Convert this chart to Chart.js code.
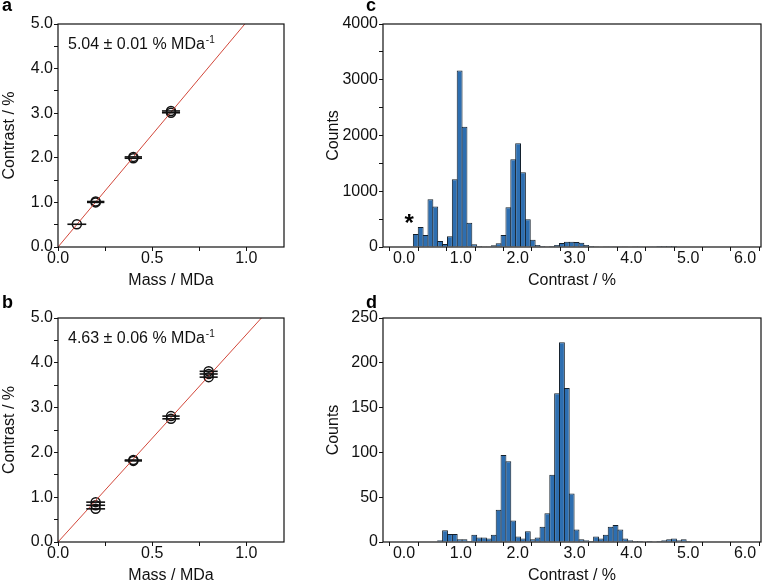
<!DOCTYPE html>
<html lang="en">
<head>
<meta charset="UTF-8" />
<title>Contrast calibration and histograms</title>
<script src="https://cdn.jsdelivr.net/npm/chart.js"></script>
<style>
  body { margin: 0; background: #fff; font-family: 'Liberation Sans', Arial, sans-serif; }
  #wrap { position: relative; width: 762px; height: 582px; overflow: hidden; }
  canvas { position: absolute; }
  .tag { position: absolute; font-weight: bold; font-size: 18px; line-height: 1; color: #000; }
</style>
</head>
<body>
<div id="wrap">
  <canvas id="chartA" width="290" height="290" style="left:0;top:0"></canvas>
  <canvas id="chartB" width="290" height="292" style="left:0;top:290px"></canvas>
  <canvas id="chartC" width="442" height="290" style="left:320px;top:0"></canvas>
  <canvas id="chartD" width="442" height="292" style="left:320px;top:290px"></canvas>
  <div class="tag" style="left:2px;top:-4px">a</div>
  <div class="tag" style="left:2px;top:293px">b</div>
  <div class="tag" style="left:366px;top:-4px">c</div>
  <div class="tag" style="left:366px;top:293px">d</div>
</div>

<script>
  // panel a: mass (MDa), contrast (%), horizontal error (MDa)
  const massA = [0.1, 0.2, 0.2, 0.4, 0.4, 0.6, 0.6];
  const contrastA = [0.51, 1.00, 1.02, 1.99, 2.02, 3.01, 3.05];
  const massErrA = [0.05, 0.046, 0.046, 0.046, 0.046, 0.048, 0.048];
  const slopeA = 5.04;
  const slopeTextA = '5.04 ± 0.01 % MDa';

  // panel b
  const massB = [0.2, 0.2, 0.2, 0.4, 0.4, 0.6, 0.6, 0.8, 0.8, 0.8];
  const contrastB = [0.74, 0.82, 0.89, 1.81, 1.83, 2.75, 2.81, 3.68, 3.75, 3.81];
  const massErrB = [0.05, 0.05, 0.05, 0.046, 0.046, 0.046, 0.046, 0.048, 0.048, 0.048];
  const slopeB = 4.63;
  const slopeTextB = '4.63 ± 0.06 % MDa';

  // histogram bin centres (contrast, %)
  const binCenters = [
    0.2070, 0.2927, 0.3784, 0.4641, 0.5498, 0.6355, 0.7212, 0.8069, 0.8926, 0.9783,
    1.0640, 1.1497, 1.2354, 1.3211, 1.4068, 1.4925, 1.5782, 1.6639, 1.7496, 1.8353,
    1.9210, 2.0067, 2.0924, 2.1781, 2.2638, 2.3495, 2.4352, 2.5209, 2.6066, 2.6923,
    2.7780, 2.8637, 2.9494, 3.0351, 3.1208, 3.2065, 3.2922, 3.3779, 3.4636, 3.5493,
    3.6350, 3.7207, 3.8064, 3.8921, 3.9778, 4.0635, 4.1492, 4.2349, 4.3206, 4.4063,
    4.4920, 4.5777, 4.6634, 4.7491, 4.8348, 4.9205, 5.0062
  ];
  const countsC = [
    234, 359, 216, 856, 725, 108, 54, 192, 1216, 3168,
    2156, 437, 48, 18, 12, 12, 30, 66, 216, 713,
    1575, 1862, 1341, 497, 132, 36, 18, 12, 18, 36,
    72, 96, 96, 90, 78, 36, 18, 6, 8, 5,
    4, 5, 3, 6, 8, 12, 15, 8, 4, 3,
    2, 2, 1, 1, 0, 0, 0
  ];
  const countsD = [
    0, 0, 0, 0, 0, 2, 13, 9, 9, 3,
    3, 1, 8, 5, 5, 4, 8, 36, 97, 90,
    24, 6, 4, 12, 3, 5, 17, 32, 75, 166,
    223, 172, 54, 14, 3, 2, 1, 6, 4, 8,
    17, 19, 14, 4, 2, 1, 1, 0, 1, 0,
    1, 2, 3, 4, 2, 3, 1
  ];

  const massTicks = [0, 0.25, 0.5, 0.75, 1.0];
  const contrastTicks = [0, 0.5, 1, 1.5, 2, 2.5, 3, 3.5, 4, 4.5, 5];
  const histXTicks = [0, 0.5, 1, 1.5, 2, 2.5, 3, 3.5, 4, 4.5, 5, 5.5, 6];
  const countTicksC = [0, 500, 1000, 1500, 2000, 2500, 3000, 3500, 4000];
  const countTicksD = [0, 50, 100, 150, 200, 250];

  Chart.defaults.font.family = "'Liberation Sans', Arial, sans-serif";
  Chart.defaults.font.size = 16;
  Chart.defaults.color = '#111';

  const ink = '#111';

  // box around the plot area
  const frame = {
    id: 'frame',
    afterDraw(chart) {
      const { ctx, chartArea: a } = chart;
      ctx.save();
      ctx.strokeStyle = ink;
      ctx.lineWidth = 1.2;
      ctx.strokeRect(a.left, a.top, a.right - a.left, a.bottom - a.top);
      ctx.restore();
    }
  };

  // horizontal error bars, read from dataset.xErr
  const errorBars = {
    id: 'errorBars',
    afterDatasetsDraw(chart) {
      const { ctx, scales: { x, y } } = chart;
      chart.data.datasets.forEach(ds => {
        if (!ds.xErr) return;
        ctx.save();
        ctx.strokeStyle = ink;
        ctx.lineWidth = 1.6;
        ds.data.forEach((p, i) => {
          const py = y.getPixelForValue(p.y);
          ctx.beginPath();
          ctx.moveTo(x.getPixelForValue(p.x - ds.xErr[i]), py);
          ctx.lineTo(x.getPixelForValue(p.x + ds.xErr[i]), py);
          ctx.stroke();
        });
        ctx.restore();
      });
    }
  };

  // slope label with superscript
  const slopeLabel = {
    id: 'slopeLabel',
    afterDraw(chart, args, opts) {
      if (!opts.text) return;
      const { ctx, chartArea: a } = chart;
      ctx.save();
      ctx.fillStyle = ink;
      ctx.textBaseline = 'alphabetic';
      ctx.font = "16px 'Liberation Sans', Arial, sans-serif";
      const x0 = a.left + 10, y0 = a.top + 25;
      ctx.fillText(opts.text, x0, y0);
      const w = ctx.measureText(opts.text).width;
      ctx.font = "10px 'Liberation Sans', Arial, sans-serif";
      ctx.fillText('-1', x0 + w + 1, y0 - 6);
      ctx.restore();
    }
  };

  // asterisk marker placed in data coordinates
  const starMark = {
    id: 'starMark',
    afterDatasetsDraw(chart, args, opts) {
      if (!opts.at) return;
      const { ctx, scales: { x, y } } = chart;
      ctx.save();
      ctx.fillStyle = '#000';
      ctx.font = "bold 24px 'Liberation Sans', Arial, sans-serif";
      ctx.textAlign = 'center';
      ctx.textBaseline = 'middle';
      ctx.fillText('*', x.getPixelForValue(opts.at[0]), y.getPixelForValue(opts.at[1]) + 4);
      ctx.restore();
    }
  };

  function axisStyle() {
    return {
      grid: { display: true, drawOnChartArea: false, drawTicks: true, tickLength: 4, color: ink, lineWidth: 1 },
      border: { display: false }
    };
  }

  function makeScatter(id, mass, contrast, err, slope, text, padTop, xHeight, tickPad, titlePad) {
    const pts = mass.map((m, i) => ({ x: m, y: contrast[i] }));
    return new Chart(document.getElementById(id), {
      type: 'scatter',
      data: {
        datasets: [
          {
            data: [{ x: 0, y: 0 }, { x: 1.2, y: slope * 1.2 }],
            showLine: true,
            borderColor: '#d2473a',
            borderWidth: 1,
            pointRadius: 0,
            clip: 0
          },
          {
            data: pts,
            xErr: err,
            pointStyle: 'circle',
            pointRadius: 4.5,
            borderWidth: 1.5,
            borderColor: ink,
            backgroundColor: 'rgba(0,0,0,0)'
          }
        ]
      },
      options: {
        responsive: false,
        animation: false,
        events: [],
        layout: { padding: { top: padTop, right: 3, left: 0, bottom: 0 } },
        plugins: { legend: { display: false }, tooltip: { enabled: false }, slopeLabel: { text: text } },
        scales: {
          x: {
            type: 'linear', min: 0, max: 1.2,
            ...axisStyle(),
            afterBuildTicks: ax => { ax.ticks = massTicks.map(v => ({ value: v })); },
            afterFit: ax => { ax.height = xHeight; },
            ticks: {
              autoSkip: false, maxRotation: 0, padding: tickPad,
              callback: v => (Math.abs(v * 2 - Math.round(v * 2)) < 1e-6 ? v.toFixed(1) : '')
            },
            title: { display: true, text: 'Mass / MDa', padding: { top: 0, bottom: titlePad } }
          },
          y: {
            type: 'linear', min: 0, max: 5,
            ...axisStyle(),
            afterBuildTicks: ax => { ax.ticks = contrastTicks.map(v => ({ value: v })); },
            afterFit: ax => { ax.width = 58; },
            ticks: {
              autoSkip: false, padding: 1,
              callback: v => (Number.isInteger(v) ? v.toFixed(1) : '')
            },
            title: { display: true, text: 'Contrast / %', padding: { top: 0, bottom: 0 } }
          }
        }
      },
      plugins: [frame, errorBars, slopeLabel]
    });
  }

  function makeHist(id, counts, yMax, yTicks, labelStep, padTop, xHeight, tickPad, titlePad, star) {
    return new Chart(document.getElementById(id), {
      type: 'bar',
      data: {
        datasets: [{
          data: binCenters.map((c, i) => ({ x: c, y: counts[i] })),
          backgroundColor: '#2d6eb0',
          borderColor: '#14202c',
          borderWidth: 1,
          borderSkipped: 'start',
          barPercentage: 1.2,
          categoryPercentage: 1
        }]
      },
      options: {
        responsive: false,
        animation: false,
        events: [],
        layout: { padding: { top: padTop, right: 1, left: 0, bottom: 0 } },
        plugins: { legend: { display: false }, tooltip: { enabled: false }, starMark: { at: star } },
        scales: {
          x: {
            type: 'linear', min: -0.37, max: 6.28, offset: false,
            ...axisStyle(),
            afterBuildTicks: ax => { ax.ticks = histXTicks.map(v => ({ value: v })); },
            afterFit: ax => { ax.height = xHeight; },
            ticks: {
              autoSkip: false, maxRotation: 0, padding: tickPad,
              callback: v => (Number.isInteger(v) ? v.toFixed(1) : '')
            },
            title: { display: true, text: 'Contrast / %', padding: { top: 0, bottom: titlePad } }
          },
          y: {
            type: 'linear', min: 0, max: yMax,
            ...axisStyle(),
            afterBuildTicks: ax => { ax.ticks = yTicks.map(v => ({ value: v })); },
            afterFit: ax => { ax.width = 63; },
            ticks: {
              autoSkip: false, padding: 1,
              callback: v => (v % labelStep === 0 ? String(v) : '')
            },
            title: { display: true, text: 'Counts', padding: { top: 4, bottom: 0 } }
          }
        }
      },
      plugins: [frame, starMark]
    });
  }

  makeScatter('chartA', massA, contrastA, massErrA, slopeA, slopeTextA, 24, 43, -2, 0);
  makeScatter('chartB', massB, contrastB, massErrB, slopeB, slopeTextB, 28, 40, -2, -3);
  makeHist('chartC', countsC, 4000, countTicksC, 1000, 24, 43, -2, 0, [0.09, 470]);
  makeHist('chartD', countsD, 250, countTicksD, 50, 28, 40, -2, -3, null);
</script>
</body>
</html>
